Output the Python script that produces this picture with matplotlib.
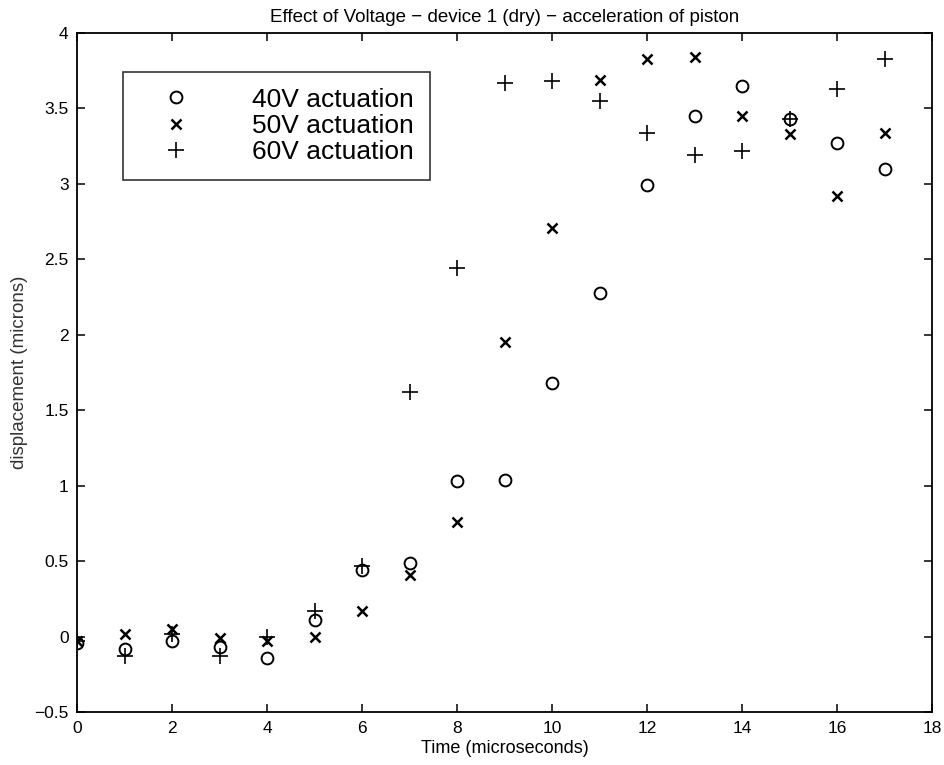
import numpy as np
import matplotlib
matplotlib.use("Agg")
import matplotlib.pyplot as plt

plt.rcParams['font.family'] = ['Liberation Sans', 'DejaVu Sans']
plt.rcParams['axes.unicode_minus'] = True

# time in microseconds
time_us = list(range(0, 18))

# displacement (microns)
disp_40v = [-0.04, -0.08, -0.03, -0.07, -0.14, 0.11, 0.44, 0.49, 1.03, 1.04,
            1.68, 2.28, 2.99, 3.45, 3.65, 3.43, 3.27, 3.10]
disp_50v = [-0.03, 0.02, 0.05, -0.01, -0.03, 0.00, 0.17, 0.41, 0.76, 1.95,
            2.71, 3.69, 3.83, 3.84, 3.45, 3.33, 2.92, 3.34]
disp_60v = [-0.03, -0.13, 0.02, -0.13, 0.00, 0.17, 0.47, 1.62, 2.44, 3.67,
            3.68, 3.55, 3.34, 3.19, 3.22, 3.43, 3.63, 3.83]

labels = ['40V actuation', '50V actuation', '60V actuation']

fig = plt.figure(figsize=(9.45, 7.65), dpi=100)
ax = fig.add_axes([0.0815, 0.069, 0.905, 0.888])

ax.plot(time_us, disp_40v, linestyle='none', marker='o', markersize=8.5,
        markerfacecolor='none', markeredgecolor='black', markeredgewidth=1.4,
        label=labels[0])
ax.plot(time_us, disp_50v, linestyle='none', marker='x', markersize=7,
        color='black', markeredgewidth=1.8, label=labels[1])
ax.plot(time_us, disp_60v, linestyle='none', marker='+', markersize=11,
        color='black', markeredgewidth=1.2, label=labels[2])

ax.set_xlim(0, 18)
ax.set_ylim(-0.5, 4)
ax.set_xticks(np.arange(0, 19, 2))
ax.set_yticks(np.arange(-0.5, 4.01, 0.5))
ax.set_yticklabels(['\u22120.5', '0', '0.5', '1', '1.5', '2', '2.5', '3', '3.5', '4'])
ax.tick_params(direction='in', top=True, right=True, length=6, width=1.1,
               labelsize=12.5, pad=6)
for sp in ax.spines.values():
    sp.set_linewidth(1.3)

ax.set_xlabel('Time (microseconds)', fontsize=13, labelpad=3)
ax.set_ylabel('displacement (microns)', fontsize=13.5, color='#333333')
ax.yaxis.set_label_coords(-0.057, 0.5)
ax.set_title('Effect of Voltage \u2212 device 1 (dry) \u2212 acceleration of piston',
             fontsize=13.5, pad=8)

leg = ax.legend(loc='upper left', bbox_to_anchor=(0.0538, 0.9426), fontsize=19,
                frameon=True, fancybox=False, edgecolor='black',
                handletextpad=1.45, handlelength=2.85, labelspacing=0.08,
                borderpad=0.6, borderaxespad=0)
leg.get_frame().set_linewidth(1.2)

fig.savefig('out.png', dpi=100)
